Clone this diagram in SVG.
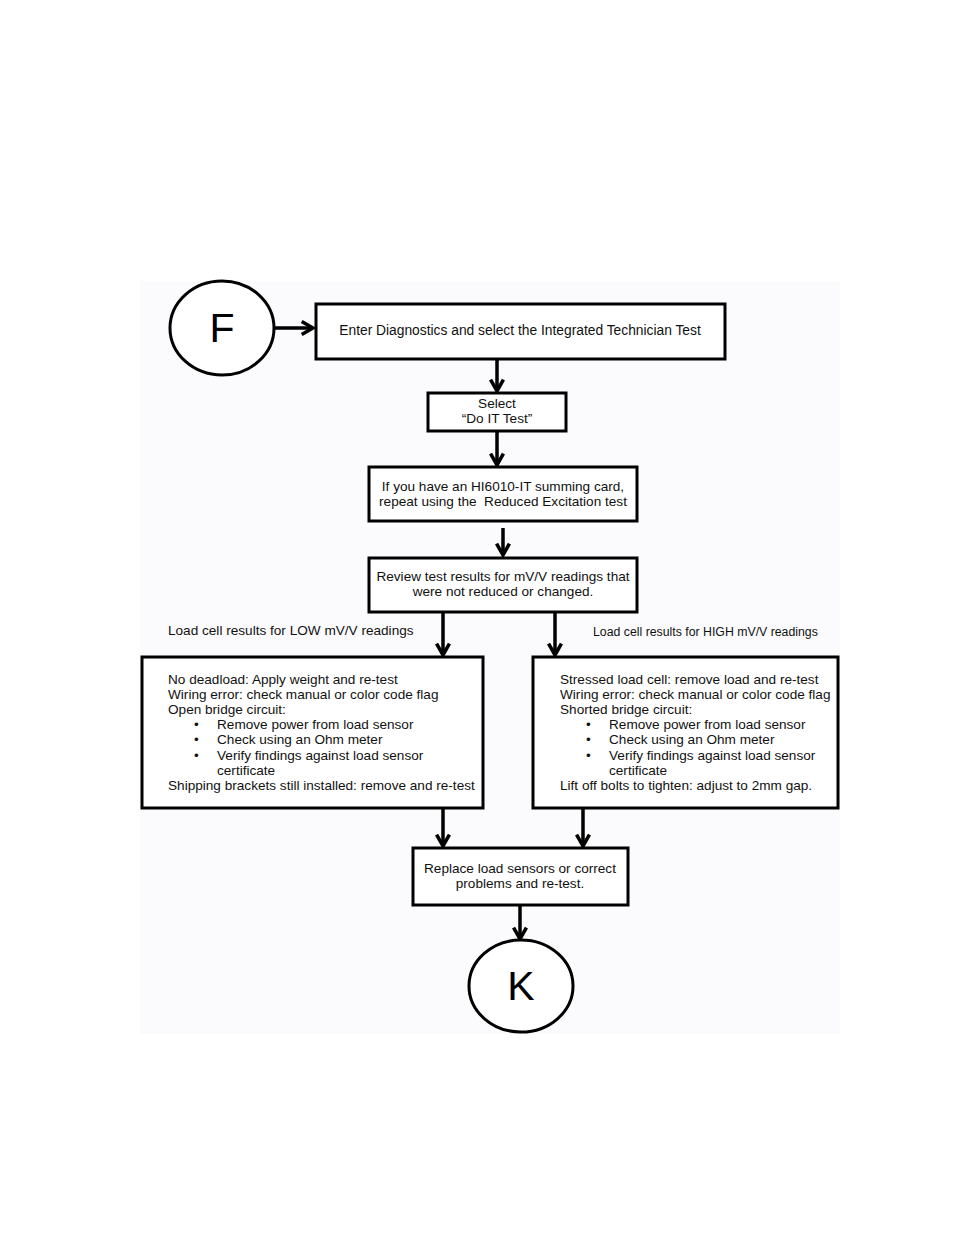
<svg xmlns="http://www.w3.org/2000/svg" width="954" height="1235" viewBox="0 0 954 1235">
<style>
.box{fill:#ffffff;stroke:#000;stroke-width:3}
.t{font-family:"Liberation Sans",Arial,sans-serif;font-size:13.6px;fill:#111}
.c{text-anchor:middle}
.big{font-family:"Liberation Sans",Arial,sans-serif;font-size:41px;fill:#000;text-anchor:middle}
.ln{stroke:#000;stroke-width:3.5;fill:none}
</style>
<defs>
<marker id="ah" viewBox="0 0 10 10" refX="8" refY="5" markerWidth="4.6" markerHeight="4.6" markerUnits="strokeWidth" orient="auto">
<path d="M1,1 L8,5 L1,9" fill="none" stroke="#000" stroke-width="2.2"/>
</marker>
</defs>
<rect width="954" height="1235" fill="#ffffff"/>
<rect x="140" y="281" width="700" height="753" fill="#fbfbfd"/>
<g id="connectors">
<line class="ln" x1="273" y1="328" x2="313" y2="328" marker-end="url(#ah)"/>
<line class="ln" x1="497" y1="360" x2="497" y2="391" marker-end="url(#ah)"/>
<line class="ln" x1="497" y1="432" x2="497" y2="465" marker-end="url(#ah)"/>
<line class="ln" x1="503" y1="528" x2="503" y2="555" marker-end="url(#ah)"/>
<line class="ln" x1="443" y1="613" x2="443" y2="655" marker-end="url(#ah)"/>
<line class="ln" x1="555" y1="613" x2="555" y2="655" marker-end="url(#ah)"/>
<line class="ln" x1="443" y1="809" x2="443" y2="846" marker-end="url(#ah)"/>
<line class="ln" x1="583" y1="809" x2="583" y2="846" marker-end="url(#ah)"/>
<line class="ln" x1="520" y1="906" x2="520" y2="939" marker-end="url(#ah)"/>
</g>
<g id="nodeF">
<ellipse cx="222" cy="328" rx="52" ry="47" fill="#fff" stroke="#000" stroke-width="3"/>
<text class="big" x="222" y="342">F</text>
</g>
<g id="enter">
<rect class="box" x="316" y="304" width="409" height="55"/>
<text class="t c" x="520" y="335" style="font-size:13.8px">Enter Diagnostics and select the Integrated Technician Test</text>
</g>
<g id="select">
<rect class="box" x="428" y="393" width="138" height="38"/>
<text class="t c" x="497" y="408">Select</text>
<text class="t c" x="497" y="423">“Do IT Test”</text>
</g>
<g id="repeat">
<rect class="box" x="369" y="467" width="268" height="54"/>
<text class="t c" x="503" y="491">If you have an HI6010-IT summing card,</text>
<text class="t c" x="503" y="506">repeat using the &#160;Reduced Excitation test</text>
</g>
<g id="review">
<rect class="box" x="369" y="558" width="268" height="54"/>
<text class="t c" x="503" y="581">Review test results for mV/V readings that</text>
<text class="t c" x="503" y="596">were not reduced or changed.</text>
</g>
<g id="labels">
<text class="t" x="168" y="635">Load cell results for LOW mV/V readings</text>
<text class="t" x="593" y="636" style="font-size:12.3px">Load cell results for HIGH mV/V readings</text>
</g>
<g id="low">
<rect class="box" x="142" y="657" width="341" height="151"/>
<text class="t" x="168" y="684">No deadload: Apply weight and re-test</text>
<text class="t" x="168" y="699">Wiring error: check manual or color code flag</text>
<text class="t" x="168" y="714">Open bridge circuit:</text>
<text class="t" x="194" y="729">•</text><text class="t" x="217" y="729">Remove power from load sensor</text>
<text class="t" x="194" y="744">•</text><text class="t" x="217" y="744">Check using an Ohm meter</text>
<text class="t" x="194" y="760">•</text><text class="t" x="217" y="760">Verify findings against load sensor</text>
<text class="t" x="217" y="775">certificate</text>
<text class="t" x="168" y="790">Shipping brackets still installed: remove and re-test</text>
</g>
<g id="high">
<rect class="box" x="533" y="657" width="305" height="151"/>
<text class="t" x="560" y="684">Stressed load cell: remove load and re-test</text>
<text class="t" x="560" y="699">Wiring error: check manual or color code flag</text>
<text class="t" x="560" y="714">Shorted bridge circuit:</text>
<text class="t" x="586" y="729">•</text><text class="t" x="609" y="729">Remove power from load sensor</text>
<text class="t" x="586" y="744">•</text><text class="t" x="609" y="744">Check using an Ohm meter</text>
<text class="t" x="586" y="760">•</text><text class="t" x="609" y="760">Verify findings against load sensor</text>
<text class="t" x="609" y="775">certificate</text>
<text class="t" x="560" y="790">Lift off bolts to tighten: adjust to 2mm gap.</text>
</g>
<g id="replace">
<rect class="box" x="413" y="848" width="215" height="57"/>
<text class="t c" x="520" y="873">Replace load sensors or correct</text>
<text class="t c" x="520" y="888">problems and re-test.</text>
</g>
<g id="nodeK">
<ellipse cx="521" cy="986" rx="52" ry="46" fill="#fff" stroke="#000" stroke-width="3"/>
<text class="big" x="521" y="1000">K</text>
</g>
</svg>
